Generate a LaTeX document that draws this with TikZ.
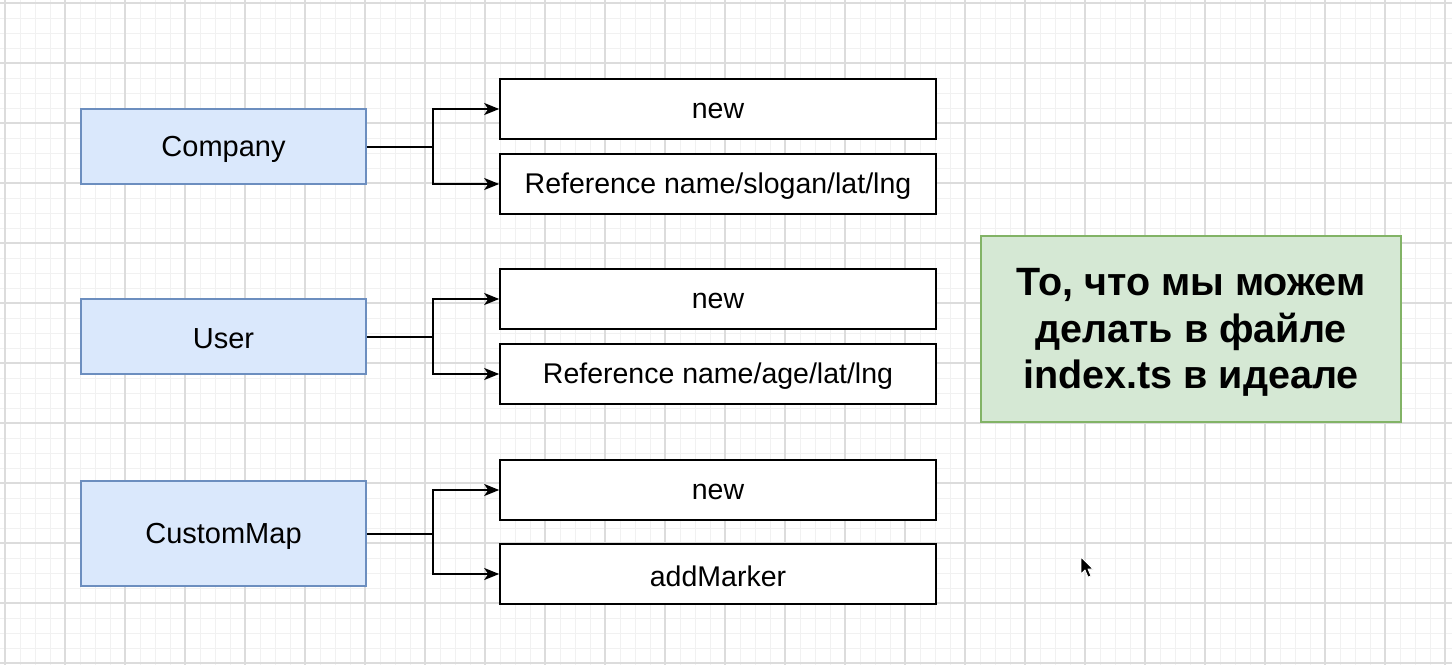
\documentclass[tikz,border=0pt]{standalone}
\usepackage{fontspec}
\setmainfont{Liberation Sans}
\usetikzlibrary{arrows.meta}
\definecolor{bluefill}{HTML}{DAE8FC}
\definecolor{blueline}{HTML}{6C8EBF}
\definecolor{greenfill}{HTML}{D5E8D4}
\definecolor{greenline}{HTML}{82B366}
\definecolor{gridminor}{HTML}{F1F1F1}
\definecolor{gridmajor}{HTML}{DCDCDC}
\tikzset{
  bluebox/.style={draw=blueline, fill=bluefill, line width=1.5pt, minimum width=285pt, minimum height=75pt, inner sep=0pt},
  whitebox/.style={draw=black, fill=white, line width=1.6pt, minimum width=436pt, minimum height=60pt, inner sep=0pt},
  greenbox/.style={draw=greenline, fill=greenfill, line width=1.5pt, minimum width=420pt, minimum height=186pt, inner sep=0pt},
  bluelbl/.style={inner sep=0pt, font=\fontsize{29}{32}\selectfont, yshift=-2.5pt},
  whitelbl/.style={inner sep=0pt, font=\fontsize{28.5}{32}\selectfont, yshift=-2.5pt},
  notelbl/.style={inner sep=0pt, align=center, font=\fontsize{39.5}{46.5}\selectfont\bfseries, yshift=-3.5pt},
  conn/.style={draw=black, line width=2pt},
  arr/.style={conn, -{Stealth[length=15pt,width=12pt,inset=4pt]}},
  minorgrid/.style={draw=gridminor, line width=1pt},
  majorgrid/.style={draw=gridmajor, line width=1.2pt}
}
\begin{document}
\begin{tikzpicture}[x=1pt,y=-1pt]
\useasboundingbox (0,0) rectangle (1452,665);
\fill[white] (0,0) rectangle (1452,665);
% grid
\foreach \x in {5,20,...,1450} \draw[minorgrid] (\x,0) -- (\x,665);
\foreach \y in {3,18,...,663} \draw[minorgrid] (0,\y) -- (1452,\y);
\foreach \x in {5,65,...,1445} \draw[majorgrid] (\x,0) -- (\x,665);
\foreach \y in {3,63,...,663} \draw[majorgrid] (0,\y) -- (1452,\y);

% left boxes
\node[bluebox] (company) at (223.5,146.5) {};
\node[bluebox] (user) at (223.5,336.5) {};
\node[bluebox, minimum height=105pt] (custommap) at (223.5,533.5) {};
\node[bluelbl] (companyt) at (company.center) {Company};
\node[bluelbl] (usert) at (user.center) {User};
\node[bluelbl] (custommapt) at (custommap.center) {CustomMap};

% right boxes
\node[whitebox] (new1) at (718,109) {};
\node[whitebox] (ref1) at (718,184) {};
\node[whitebox] (new2) at (718,299) {};
\node[whitebox] (ref2) at (718,374) {};
\node[whitebox] (new3) at (718,490) {};
\node[whitebox] (addm) at (718,574) {};
\node[whitelbl, yshift=1pt] (new1t) at (new1.center) {new};
\node[whitelbl] (ref1t) at (ref1.center) {Reference name/slogan/lat/lng};
\node[whitelbl, yshift=1pt] (new2t) at (new2.center) {new};
\node[whitelbl] (ref2t) at (ref2.center) {Reference name/age/lat/lng};
\node[whitelbl, yshift=1pt] (new3t) at (new3.center) {new};
\node[whitelbl] (addmt) at (addm.center) {addMarker};

% note
\node[greenbox] (note) at (1191,329) {};
\node[notelbl] (notet) at (note.center) {То, что мы можем\\делать в файле\\index.ts в идеале};

% connectors
\coordinate (j1) at (433,146.5);
\coordinate (j2) at (433,336.5);
\coordinate (j3) at (433,533.5);
\draw[conn] (company.east) -- (j1);
\draw[arr] (j1) |- (new1.west);
\draw[arr] (j1) |- (ref1.west);
\draw[conn] (user.east) -- (j2);
\draw[arr] (j2) |- (new2.west);
\draw[arr] (j2) |- (ref2.west);
\draw[conn] (custommap.east) -- (j3);
\draw[arr] (j3) |- (new3.west);
\draw[arr] (j3) |- (addm.west);

% mouse cursor
\filldraw[fill=black, draw=white, line width=0.8pt, line join=round]
  (1081,557) -- (1081,574) -- (1085,570) -- (1088,577) -- (1091,576) -- (1088,569) -- (1093,569) -- cycle;
\end{tikzpicture}
\end{document}
